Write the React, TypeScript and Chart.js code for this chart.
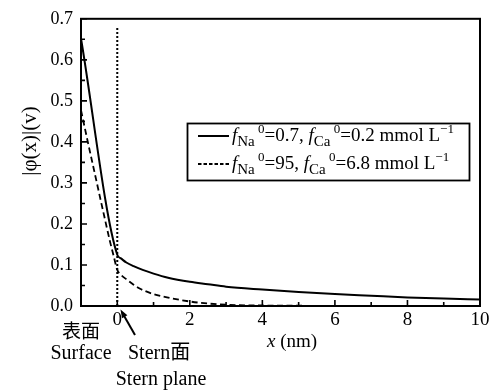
import React, { useEffect, useRef } from "react";
import { Chart, registerables } from "chart.js";

Chart.register(...registerables);

// x in nm, |phi(x)| in V
const solidX = [-1, 0, 0.1, 0.25, 0.45, 0.7, 1, 1.4, 2, 2.5, 3, 4, 5, 6, 7, 8, 9, 10];
const solidY = [0.652, 0.125, 0.116, 0.106, 0.097, 0.088, 0.079, 0.069, 0.059, 0.053, 0.047, 0.04, 0.034, 0.029, 0.025, 0.021, 0.018, 0.016];

const dashedX = [-1, -0.8, -0.6, -0.4, -0.2, -0.1, 0, 0.1, 0.27, 0.45, 0.63, 1, 1.37, 2, 2.5, 3, 4, 5, 6.5];
const dashedY = [0.477, 0.395, 0.315, 0.235, 0.157, 0.122, 0.088, 0.076, 0.064, 0.052, 0.042, 0.029, 0.021, 0.011, 0.006, 0.003, 0.0012, 0.0006, 0.0003];

const legendNa = ["0.7", "95"];
const legendCa = ["0.2", "6.8"];

const xLabel = "x";
const xUnit = " (nm)";
const yLabel = "|φ(x)|(v)";
const surfaceCn = "表面";
const surfaceEn = "Surface";
const sternCn = "Stern面";
const sternEn = "Stern plane";

const SERIF = "'Liberation Serif', 'Times New Roman', serif";
const SERIF_CJK = "'Liberation Serif', 'Noto Sans CJK SC', serif";

function drawRich(ctx: CanvasRenderingContext2D, x: number, y: number, segs: [string, string, number][]) {
  let cx = x;
  for (const [t, font, dy] of segs) {
    ctx.font = font;
    ctx.fillText(t, cx, y + dy);
    cx += ctx.measureText(t).width;
  }
}

const decorPlugin = {
  id: "decor",
  afterDraw(chart: any) {
    const ctx: CanvasRenderingContext2D = chart.ctx;
    const { left, right, top, bottom } = chart.chartArea;
    const xs = chart.scales.x;
    const ys = chart.scales.y;
    ctx.save();
    ctx.strokeStyle = "#000";
    ctx.fillStyle = "#000";

    // dotted Stern line at x = 0
    ctx.lineWidth = 2;
    ctx.setLineDash([2, 2]);
    ctx.beginPath();
    const x0 = xs.getPixelForValue(0);
    ctx.moveTo(x0, bottom);
    ctx.lineTo(x0, ys.getPixelForValue(0.68));
    ctx.stroke();
    ctx.setLineDash([]);

    // frame
    ctx.lineWidth = 2;
    ctx.strokeRect(left, top, right - left, bottom - top);

    // inward ticks
    ctx.lineWidth = 1.6;
    ctx.beginPath();
    for (let v = -1; v <= 10; v++) {
      const px = xs.getPixelForValue(v);
      const len = v % 2 === 0 ? 6 : 4;
      ctx.moveTo(px, bottom);
      ctx.lineTo(px, bottom - len);
    }
    for (let i = 0; i <= 14; i++) {
      const v = i * 0.05;
      const py = ys.getPixelForValue(v);
      const len = i % 2 === 0 ? 6 : 4;
      ctx.moveTo(left, py);
      ctx.lineTo(left + len, py);
    }
    ctx.stroke();

    // legend box
    ctx.lineWidth = 1.8;
    ctx.strokeRect(187.5, 123.5, 282, 57);
    const rows = [136, 164];
    for (let r = 0; r < 2; r++) {
      const ly = rows[r];
      ctx.lineWidth = r === 0 ? 2 : 1.8;
      ctx.setLineDash(r === 0 ? [] : [3.5, 2]);
      ctx.beginPath();
      ctx.moveTo(198, ly);
      ctx.lineTo(229, ly);
      ctx.stroke();
      ctx.setLineDash([]);
      ctx.textBaseline = "alphabetic";
      ctx.textAlign = "left";
      const base = `19px ${SERIF}`;
      const ital = `italic 19px ${SERIF}`;
      const sub = `15px ${SERIF}`;
      const sup = `13px ${SERIF}`;
      drawRich(ctx, 232, ly + 5, [
        ["f", ital, 0],
        ["Na", sub, 5],
        [" 0", sup, -8],
        ["=" + legendNa[r] + ", ", base, 0],
        ["f", ital, 0],
        ["Ca", sub, 5],
        [" 0", sup, -8],
        ["=" + legendCa[r] + " mmol L", base, 0],
        ["−1", sup, -8],
      ]);
    }

    // axis titles
    ctx.textBaseline = "alphabetic";
    ctx.textAlign = "left";
    ctx.font = `italic 19px ${SERIF}`;
    ctx.fillText(xLabel, 267, 347);
    const wx = ctx.measureText(xLabel).width;
    ctx.font = `19px ${SERIF}`;
    ctx.fillText(xUnit, 267 + wx, 347);

    ctx.save();
    ctx.translate(30, 141);
    ctx.rotate(-Math.PI / 2);
    ctx.textAlign = "center";
    ctx.textBaseline = "middle";
    ctx.font = `21px ${SERIF}`;
    ctx.fillText(yLabel, 0, 0);
    ctx.restore();

    // annotations
    ctx.textAlign = "center";
    ctx.textBaseline = "alphabetic";
    ctx.font = `19px ${SERIF_CJK}`;
    ctx.fillText(surfaceCn, 81, 338);
    ctx.font = `20px ${SERIF}`;
    ctx.fillText(surfaceEn, 81, 359);
    ctx.fillText(sternEn, 161, 385);
    ctx.textAlign = "left";
    ctx.font = `20px ${SERIF_CJK}`;
    ctx.fillText(sternCn, 128, 359);

    // arrow
    ctx.lineWidth = 2;
    ctx.beginPath();
    ctx.moveTo(135, 335);
    ctx.lineTo(123, 314);
    ctx.stroke();
    ctx.beginPath();
    const ax = 120.5, ay = 309.5;
    const ang = Math.atan2(335 - ay, 135 - ax);
    ctx.moveTo(ax, ay);
    ctx.lineTo(ax + 9 * Math.cos(ang - 0.35), ay + 9 * Math.sin(ang - 0.35));
    ctx.lineTo(ax + 9 * Math.cos(ang + 0.35), ay + 9 * Math.sin(ang + 0.35));
    ctx.closePath();
    ctx.fill();

    ctx.restore();
  },
};

export default function App() {
  const ref = useRef<HTMLCanvasElement | null>(null);
  useEffect(() => {
    if (!ref.current) return;
    const chart = new Chart(ref.current, {
      type: "line",
      data: {
        datasets: [
          {
            label: "fNa0=0.7, fCa0=0.2 mmol L-1",
            data: solidX.map((x, i) => ({ x, y: solidY[i] })),
            borderColor: "#000",
            borderWidth: 2,
            pointRadius: 0,
            cubicInterpolationMode: "monotone",
            fill: false,
          },
          {
            label: "fNa0=95, fCa0=6.8 mmol L-1",
            data: dashedX.map((x, i) => ({ x, y: dashedY[i] })),
            borderColor: "#000",
            borderWidth: 1.8,
            borderDash: [6, 3.5],
            pointRadius: 0,
            cubicInterpolationMode: "monotone",
            fill: false,
          },
        ],
      },
      options: {
        animation: false,
        responsive: true,
        maintainAspectRatio: false,
        layout: { padding: { left: 0, top: 18, right: 15, bottom: 0 } },
        plugins: { legend: { display: false }, tooltip: { enabled: false } },
        scales: {
          x: {
            type: "linear",
            min: -1,
            max: 10,
            grid: { display: false, drawTicks: false },
            border: { display: false },
            afterFit: (s: any) => {
              s.height = 85;
            },
            ticks: {
              stepSize: 1,
              autoSkip: false,
              maxRotation: 0,
              padding: 3,
              color: "#000",
              font: { family: SERIF, size: 19 },
              callback: (v: any) => {
                const n = Math.round(Number(v));
                return n >= 0 && n % 2 === 0 ? String(n) : "";
              },
            },
          },
          y: {
            type: "linear",
            min: 0,
            max: 0.7,
            grid: { display: false, drawTicks: false },
            border: { display: false },
            afterFit: (s: any) => {
              s.width = 81;
            },
            ticks: {
              stepSize: 0.1,
              padding: 8,
              color: "#000",
              font: { family: SERIF, size: 18 },
              callback: (v: any) => (Math.round(Number(v) * 10) / 10).toFixed(1),
            },
          },
        },
      },
      plugins: [decorPlugin],
    } as any);
    return () => chart.destroy();
  }, []);
  return (
    <div style={{ position: "fixed", left: 0, top: 0, width: 495, height: 391, background: "#fff" }}>
      <canvas ref={ref} />
    </div>
  );
}
